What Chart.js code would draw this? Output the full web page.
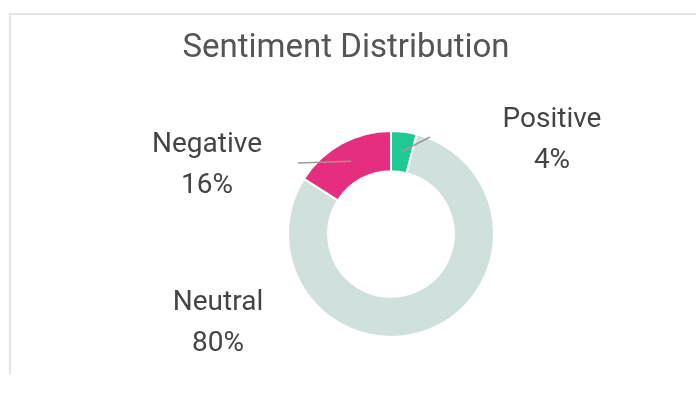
<!DOCTYPE html>
<html>
<head>
<meta charset="utf-8">
<script src="https://cdn.jsdelivr.net/npm/chart.js@4.4.1/dist/chart.umd.min.js"></script>
<style>
    html, body { margin: 0; padding: 0; background: #fff; }
    body { width: 696px; height: 394px; position: relative; overflow: hidden; }
    .card {
        position: absolute; left: 9px; top: 13px; width: 700px; height: 359px;
        border-top: 2px solid #e4e4e4; border-left: 2px solid #e4e4e4;
    }
    #chart { position: absolute; left: 0; top: 0; }
</style>
</head>
<body>
<div class="card"></div>
<canvas id="chart" width="696" height="394"></canvas>
<script>
const chartTitle = 'Sentiment Distribution';
const labels = ['Positive', 'Neutral', 'Negative'];
const values = [4, 80, 16];
const colors = ['#1fc994', '#cfe0dd', '#e62e7e'];

// where each outside label sits, and whether a leader line is drawn
const labelSpots = [
    { x: 552, y: 140, line: { x: 430, y: 137 } },
    { x: 218, y: 323, line: null },
    { x: 207, y: 165, line: { x: 298, y: 163 } }
];

// the built-in title gets squeezed to the chart area width, so draw it here
const titleAndLabels = {
    id: 'titleAndLabels',
    afterDatasetsDraw(chart) {
        const ctx = chart.ctx;
        const arcs = chart.getDatasetMeta(0).data;
        const total = values.reduce((a, b) => a + b, 0);
        ctx.save();
        ctx.textAlign = 'center';
        ctx.textBaseline = 'middle';
        ctx.fillStyle = '#555';
        ctx.font = '400 33px Roboto';
        ctx.fillText(chartTitle, 346, 49);

        arcs.forEach((arc, i) => {
            const spot = labelSpots[i];
            if (spot.line) {
                const c = arc.getCenterPoint();
                ctx.strokeStyle = '#9a9a9a';
                ctx.lineWidth = 1.5;
                ctx.beginPath();
                ctx.moveTo(c.x, c.y);
                ctx.lineTo(spot.line.x, spot.line.y);
                ctx.stroke();
            }
            ctx.fillStyle = '#444';
            ctx.font = '400 28px Roboto';
            ctx.fillText(labels[i], spot.x, spot.y - 20);
            ctx.fillText(Math.round(values[i] / total * 100) + '%', spot.x, spot.y + 21);
        });
        ctx.restore();
    }
};

new Chart(document.getElementById('chart'), {
    type: 'doughnut',
    data: {
        labels: labels,
        datasets: [{
            data: values,
            backgroundColor: colors,
            borderColor: '#ffffff',
            borderWidth: 2,
            hoverOffset: 0
        }]
    },
    options: {
        responsive: false,
        animation: false,
        cutout: '61%',
        radius: 103,
        layout: { padding: { left: 288, right: 202, top: 131, bottom: 57 } },
        plugins: {
            legend: { display: false },
            tooltip: { enabled: false },
            title: { display: false }
        }
    },
    plugins: [titleAndLabels]
});
</script>
</body>
</html>
